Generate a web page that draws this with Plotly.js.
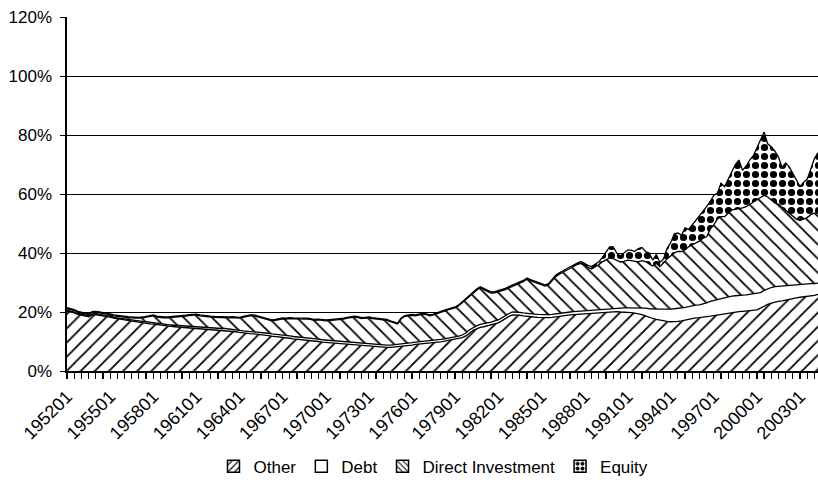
<!DOCTYPE html>
<html>
<head>
<meta charset="utf-8">
<script src="https://cdn.plot.ly/plotly-3.0.1.min.js"></script>
<style>html,body{margin:0;padding:0;background:#fff;}#chart{width:818px;height:492px;}</style>
</head>
<body>
<div id="chart"></div>
<script>
// Quarterly shares (% of GDP), 1952Q1 .. 2004Q2
const firstYear = 1952;
const seriesNames = ['Other', 'Debt', 'Direct Investment', 'Equity'];
const tickLabels = ['195201','195501','195801','196101','196401','196701','197001','197301','197601','197901','198201','198501','198801','199101','199401','199701','200001','200301'];

const other = [
20.3,20.1,19.7,19.2, 18.9,18.7,18.4,19.0, 19.1,18.9,18.7,18.6, 18.3,17.9,17.7,17.4,
17.2,17.0,16.8,16.6, 16.4,16.3,16.2,16.0, 15.9,15.7,15.5,15.4, 15.2,15.1,15.0,14.9,
14.8,14.7,14.6,14.5, 14.4,14.3,14.2,14.2, 14.1,14.0,14.0,13.9, 13.8,13.7,13.5,13.3,
13.1,12.9,12.8,12.7, 12.6,12.5,12.4,12.2, 12.0,11.8,11.7,11.6, 11.5,11.3,11.1,10.9,
10.8,10.7,10.6,10.5, 10.4,10.2,10.0,9.8, 9.7,9.5,9.4,9.2, 9.1,9.0,8.9,8.8,
8.7,8.6,8.5,8.4, 8.3,8.2,8.1,8.1, 8.0,8.0,8.0,8.1, 8.2,8.3,8.5,8.6,
8.8,9.0,9.1,9.3, 9.4,9.5,9.6,9.8, 9.9,10.1,10.3,10.5, 10.7,11.0,11.3,11.9,
13.0,13.8,14.3,14.8, 15.0,15.3,15.6,16.0, 16.3,17.0,17.8,18.5, 19.0,19.0,18.9,18.7,
18.5,18.4,18.3,18.2, 18.1,18.1,18.1,18.2, 18.4,18.5,18.6,18.8, 19.0,19.1,19.2,19.3,
19.3,19.4,19.5,19.6, 19.7,19.8,19.9,20.0, 20.1,20.1,20.0,20.0, 19.9,19.8,19.6,19.4,
19.1,18.7,18.2,17.8, 17.5,17.2,17.0,16.8, 16.7,16.7,16.8,17.0, 17.3,17.5,17.8,18.0,
18.1,18.2,18.4,18.6, 18.8,19.0,19.2,19.4, 19.7,19.9,20.0,20.1, 20.2,20.3,20.5,20.6,
20.7,21.3,22.0,22.6, 23.0,23.4,23.6,23.8, 24.1,24.4,24.6,24.8, 25.0,25.1,25.2,25.4,
25.6,26.0
];

const debt = [
0.3,0.3,0.3,0.3, 0.3,0.3,0.3,0.3, 0.3,0.3,0.3,0.3, 0.3,0.3,0.3,0.4,
0.4,0.4,0.4,0.4, 0.5,0.5,0.5,0.5, 0.5,0.5,0.5,0.5, 0.5,0.5,0.5,0.5,
0.5,0.5,0.5,0.5, 0.5,0.5,0.5,0.5, 0.5,0.5,0.5,0.5, 0.6,0.6,0.6,0.6,
0.7,0.7,0.7,0.7, 0.8,0.8,0.8,0.8, 0.8,0.8,0.8,0.8, 0.8,0.8,0.8,0.8,
0.8,0.8,0.8,0.8, 0.8,0.8,0.8,0.8, 0.8,0.8,0.8,0.8, 0.8,0.8,0.8,0.8,
0.8,0.8,0.8,0.8, 0.8,0.8,0.8,0.8, 0.8,0.8,0.8,0.8, 0.8,0.8,0.8,0.8,
0.8,0.8,0.8,0.8, 0.8,0.8,0.8,0.8, 0.8,0.8,0.8,0.8, 0.8,0.8,0.9,1.0,
1.0,1.0,1.0,1.0, 1.0,1.0,1.0,1.0, 1.0,1.0,1.0,1.0, 1.0,1.0,1.0,1.0,
1.0,1.0,1.0,1.0, 1.0,1.0,1.0,1.0, 1.0,1.0,1.0,1.0, 1.0,1.0,1.0,1.0,
1.0,1.0,1.0,1.0, 1.0,1.0,1.1,1.2, 1.2,1.3,1.3,1.4, 1.5,1.6,1.8,2.0,
2.3,2.6,2.9,3.2, 3.5,3.8,4.0,4.1, 4.3,4.4,4.4,4.4, 4.3,4.3,4.3,4.3,
4.3,4.5,4.7,5.0, 5.1,5.3,5.4,5.4, 5.4,5.5,5.5,5.6, 5.5,5.5,5.5,5.5,
5.5,5.3,5.3,5.3, 5.3,5.2,5.1,5.0, 4.9,4.8,4.7,4.6, 4.5,4.4,4.3,4.2,
4.0,3.8
];

const directInvestment = [
0.6,0.5,0.5,0.4, 0.5,0.5,0.4,0.5, 0.5,0.5,0.5,0.6, 0.5,0.5,0.5,0.5,
0.6,0.7,0.8,0.9, 1.0,1.2,1.6,2.0, 2.3,2.1,2.1,2.1, 2.3,2.5,2.6,2.8,
3.1,3.4,3.7,4.0, 4.1,3.9,3.8,3.7, 3.7,3.7,3.6,3.8, 3.7,3.7,4.0,4.0,
4.1,4.6,5.0,5.3, 5.3,5.1,4.9,4.7, 4.5,4.4,4.7,5.1, 5.4,5.5,5.9,6.0,
6.1,6.0,6.3,6.3, 6.2,6.2,6.5,6.5, 6.5,6.8,7.0,7.3, 7.6,7.8,8.2,8.6,
8.8,8.7,8.5,8.7, 8.9,8.8,8.8,8.7, 8.6,8.4,7.9,7.4, 6.9,8.6,9.2,9.3,
9.3,8.9,9.1,9.2, 8.9,8.4,8.6,8.9, 9.1,9.4,9.6,9.8, 9.9,10.3,11.0,11.4,
11.4,11.6,12.1,12.4, 11.6,10.5,9.8,9.5, 9.5,9.2,8.8,8.7, 8.8,9.4,9.9,10.6,
11.6,11.2,10.9,10.6, 10.3,9.7,10.1,11.4, 12.6,13.3,13.9,14.3, 14.9,15.4,15.9,16.2,
15.4,14.7,14.1,14.6, 15.3,16.2,16.8,17.1, 16.8,16.2,15.6,15.8, 16.2,16.0,15.8,15.6,
16.0,15.8,15.2,14.6, 15.5,14.4,15.6,17.1, 18.0,18.9,19.3,19.1, 19.4,20.3,20.7,21.0,
21.6,22.3,22.4,24.4, 25.6,27.2,27.7,27.5, 28.4,29.2,29.3,29.3, 29.6,29.9,30.5,31.4,
31.8,32.2,32.2,31.1, 29.7,28.4,27.8,26.7, 25.5,24.3,23.2,22.1, 21.5,22.0,22.5,23.4,
23.9,23.7
];

const equity = [
0.3,0.3,0.3,0.3, 0.3,0.3,0.3,0.3, 0.3,0.3,0.3,0.3, 0.3,0.3,0.3,0.3,
0.3,0.3,0.3,0.3, 0.3,0.3,0.3,0.3, 0.3,0.3,0.3,0.3, 0.3,0.3,0.3,0.3,
0.3,0.3,0.3,0.3, 0.3,0.3,0.3,0.3, 0.3,0.3,0.3,0.3, 0.3,0.3,0.3,0.3,
0.3,0.3,0.3,0.3, 0.3,0.3,0.3,0.3, 0.3,0.3,0.3,0.3, 0.3,0.3,0.3,0.3,
0.3,0.3,0.3,0.3, 0.3,0.3,0.3,0.3, 0.3,0.3,0.3,0.3, 0.3,0.3,0.3,0.3,
0.3,0.3,0.3,0.3, 0.3,0.3,0.3,0.3, 0.3,0.3,0.3,0.3, 0.3,0.3,0.3,0.3,
0.3,0.3,0.3,0.3, 0.3,0.3,0.3,0.3, 0.3,0.3,0.3,0.3, 0.3,0.3,0.3,0.3,
0.4,0.4,0.4,0.4, 0.4,0.4,0.4,0.4, 0.4,0.4,0.4,0.4, 0.4,0.4,0.4,0.4,
0.4,0.4,0.4,0.4, 0.4,0.4,0.4,0.4, 0.5,0.5,0.5,0.5, 0.5,0.5,0.5,0.6,
0.7,0.7,0.8,1.0, 1.0,1.5,2.7,3.8, 4.0,2.4,2.1,2.8, 3.4,3.6,3.3,4.5,
4.5,3.4,3.7,2.0, 3.0,1.4,1.4,3.5, 4.5,6.5,6.3,5.5, 7.5,5.9,6.7,7.7,
8.3,9.0,10.2,9.5, 10.0,8.8,11.4,10.2, 11.5,13.0,15.2,16.5, 12.7,13.8,15.0,15.5,
17.6,19.2,21.5,18.0, 18.0,17.5,16.0,13.5, 16.0,15.7,14.5,13.5, 11.5,12.5,13.0,15.5,
18.5,20.5
];

// quarter labels YYYYQQ and index positions
const quarters = other.map((_, i) => String(firstYear + Math.floor(i / 4)) + '0' + String(i % 4 + 1));
const xIdx = quarters.map((_, i) => i);
const tickVals = tickLabels.map(l => quarters.indexOf(l));

const FONT = 'Liberation Sans, Arial, Helvetica, sans-serif';
const lineStyle = {color: '#000', width: 1.3};

const patterns = [
  {shape: '/', fgcolor: '#000', bgcolor: '#fff', size: 10, solidity: 0.18},
  null,
  {shape: '\\', fgcolor: '#000', bgcolor: '#fff', size: 10, solidity: 0.18},
  {shape: '.', fgcolor: '#000', bgcolor: '#fff', size: 9, solidity: 0.5}
];
const values = [other, debt, directInvestment, equity];

const traces = values.map((v, k) => {
  const t = {
    type: 'scatter', mode: 'lines', x: xIdx, y: v, stackgroup: 'one',
    name: seriesNames[k], showlegend: false,
    line: lineStyle, fillcolor: '#fff', hoverinfo: 'skip'
  };
  if (patterns[k]) t.fillpattern = patterns[k];
  return t;
});

// legend-only swatches (boxes with patterns), drawn on a hidden axis pair
const legendPatterns = [
  {shape: '/', fgcolor: '#000', bgcolor: '#fff', size: 6, solidity: 0.25},
  {shape: '', fgcolor: '#000', bgcolor: '#fff'},
  {shape: '\\', fgcolor: '#000', bgcolor: '#fff', size: 5, solidity: 0.25},
  {shape: '.', fgcolor: '#000', bgcolor: '#fff', size: 6, solidity: 0.5}
];
seriesNames.forEach((n, k) => {
  traces.push({
    type: 'bar', x: [0], y: [0], xaxis: 'x2', yaxis: 'y2', name: n, showlegend: true,
    marker: {color: '#fff', pattern: legendPatterns[k], line: {color: '#000', width: 1.5}},
    hoverinfo: 'skip'
  });
});

const layout = {
  width: 818, height: 492,
  margin: {l: 67, r: 0, t: 17, b: 121},
  paper_bgcolor: '#fff', plot_bgcolor: '#fff',
  font: {family: FONT, size: 17, color: '#000'},
  showlegend: true,
  legend: {orientation: 'h', x: 0.488, xanchor: 'center', y: -0.27, yanchor: 'middle',
           traceorder: 'normal', font: {family: FONT, size: 17, color: '#000'}, itemwidth: 30},
  xaxis: {
    range: [0, 209], tickvals: tickVals, ticktext: tickLabels, tickangle: -45,
    showgrid: false, zeroline: false, showline: true, linecolor: '#000', linewidth: 2,
    ticks: 'outside', ticklen: 6, tickwidth: 1.2, tickcolor: '#000',
    minor: {dtick: 2, tick0: 0, ticks: 'outside', ticklen: 6, tickwidth: 1.2, tickcolor: '#000', showgrid: false},
    tickfont: {family: FONT, size: 18, color: '#000'}
  },
  yaxis: {
    range: [0, 120], dtick: 20, tick0: 0, ticksuffix: '%',
    showgrid: true, gridcolor: '#000', gridwidth: 1,
    zeroline: false, showline: true, linecolor: '#000', linewidth: 2.5,
    ticks: 'outside', ticklen: 5, tickcolor: '#000', ticklabelstandoff: 4,
    tickfont: {family: FONT, size: 17, color: '#000'}
  },
  xaxis2: {overlaying: 'x', range: [5, 6], visible: false, fixedrange: true},
  yaxis2: {overlaying: 'y', range: [5, 6], visible: false, fixedrange: true},
  barmode: 'overlay'
};

Plotly.newPlot('chart', traces, layout, {staticPlot: true, displayModeBar: false});
</script>
</body>
</html>
